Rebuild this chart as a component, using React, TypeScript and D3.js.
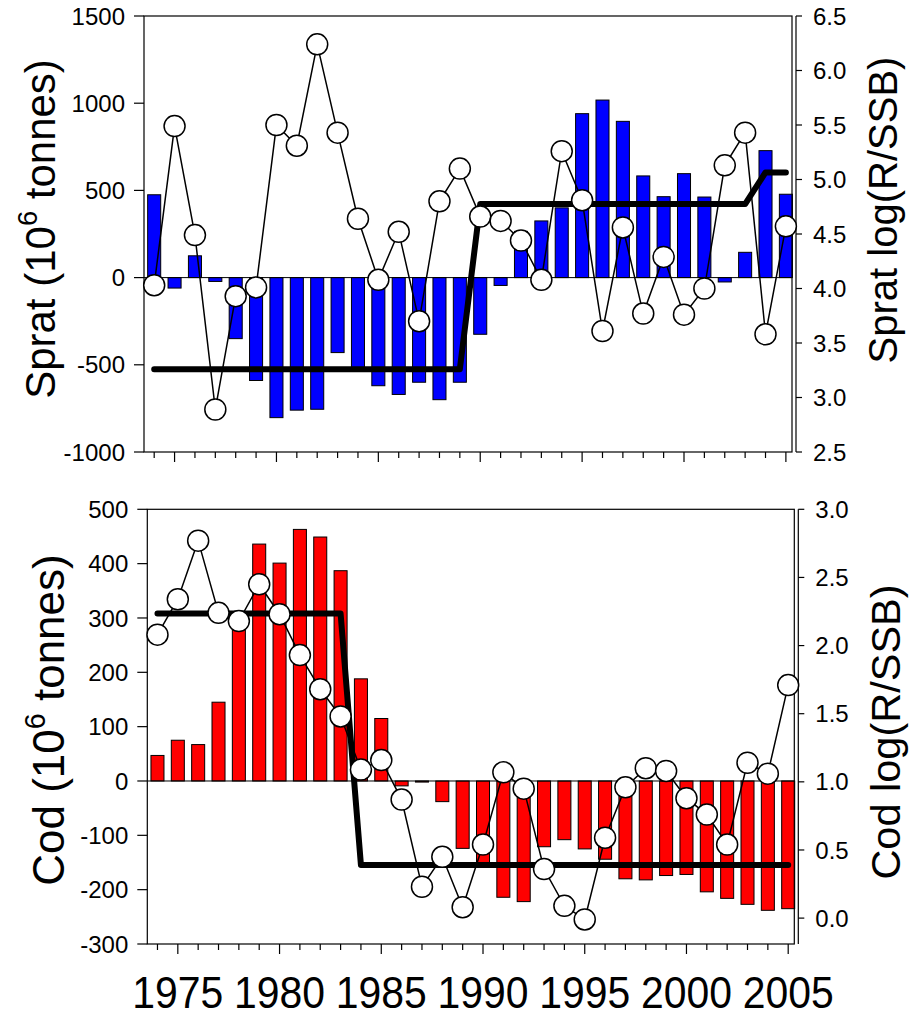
import React from "react";
import * as d3 from "d3";

const years = [1974, 1975, 1976, 1977, 1978, 1979, 1980, 1981, 1982, 1983, 1984, 1985, 1986, 1987, 1988, 1989,
  1990, 1991, 1992, 1993, 1994, 1995, 1996, 1997, 1998, 1999, 2000, 2001, 2002, 2003, 2004, 2005];
const majorYears = [1975, 1980, 1985, 1990, 1995, 2000, 2005];

const spratBars = [475, -60, 125, -22, -350, -590, -803, -760, -755, -430, -535, -620, -670, -600, -700, -600,
  -325, -45, 265, 325, 400, 940, 1018, 896, 583, 464, 596, 462, -25, 145, 728, 478];
const spratLog = [4.03, 5.49, 4.49, 2.89, 3.93, 4.01, 5.5, 5.31, 6.24, 5.43, 4.64, 4.08, 4.52, 3.7, 4.8, 5.1,
  4.66, 4.62, 4.44, 4.08, 5.26, 4.81, 3.61, 4.56, 3.77, 4.29, 3.76, 4.0, 5.13, 5.43, 3.58, 4.57];
const spratRegime = [3.26, 3.26, 3.26, 3.26, 3.26, 3.26, 3.26, 3.26, 3.26, 3.26, 3.26, 3.26, 3.26, 3.26, 3.26, 3.26,
  4.775, 4.775, 4.775, 4.775, 4.775, 4.775, 4.775, 4.775, 4.775, 4.775, 4.775, 4.775, 4.775, 4.775, 5.065, 5.065];

const codBars = [47, 75, 67, 145, 295, 436, 401, 463, 449, 387, 188, 115, -9, -2, -38, -124,
  -150, -214, -222, -121, -108, -125, -144, -180, -182, -174, -172, -204, -216, -227, -238, -235];
const codLog = [2.08, 2.34, 2.77, 2.24, 2.18, 2.45, 2.23, 1.93, 1.68, 1.48, 1.09, 1.16, 0.87, 0.23, 0.45, 0.08,
  0.54, 1.07, 0.95, 0.36, 0.09, -0.01, 0.59, 0.96, 1.1, 1.08, 0.88, 0.76, 0.54, 1.14, 1.06, 1.71];
const codRegime = [2.235, 2.235, 2.235, 2.235, 2.235, 2.235, 2.235, 2.235, 2.235, 2.235,
  0.39, 0.39, 0.39, 0.39, 0.39, 0.39, 0.39, 0.39, 0.39, 0.39, 0.39, 0.39, 0.39, 0.39, 0.39, 0.39,
  0.39, 0.39, 0.39, 0.39, 0.39, 0.39];

const spratLeftTicks = [-1000, -500, 0, 500, 1000, 1500];
const spratRightTicks = [2.5, 3.0, 3.5, 4.0, 4.5, 5.0, 5.5, 6.0, 6.5];
const codLeftTicks = [-300, -200, -100, 0, 100, 200, 300, 400, 500];
const codRightTicks = [0.0, 0.5, 1.0, 1.5, 2.0, 2.5, 3.0];

const FONT = "'Liberation Sans', Arial, Helvetica, sans-serif";

type PanelProps = {
  left: number; right: number; top: number; bottom: number;
  leftDomain: [number, number]; rightDomain: [number, number];
  leftTicks: number[]; rightTicks: number[];
  bars: number[]; logs: number[]; regime: number[];
  color: string; species: string;
  leftTitle: [number, number]; rightTitle: [number, number];
  leftFont: number; rightFont: number;
};

function Panel(p: PanelProps) {
  const x = d3.scaleLinear().domain([1973.5, 2005.3]).range([p.left, p.right]);
  const yL = d3.scaleLinear().domain(p.leftDomain).range([p.bottom, p.top]);
  const yR = d3.scaleLinear().domain(p.rightDomain).range([p.bottom, p.top]);
  const barW = x(1974.32) - x(1974);
  const thin = d3.line<number>().x((_, i) => x(years[i])).y((d) => yR(d));
  const fmt = d3.format(".1f");
  const rAx = p.right + 4;
  const sup = Math.round(p.leftFont * 0.43);
  return (
    <g>
      {p.bars.map((v, i) => (
        <rect key={"b" + i} x={x(years[i]) - barW} width={barW * 2}
          y={Math.min(yL(v), yL(0))} height={Math.abs(yL(v) - yL(0))}
          fill={p.color} stroke="#000" strokeWidth={1} />
      ))}
      <line x1={p.left} x2={p.right} y1={yL(0)} y2={yL(0)} stroke="#000" strokeWidth={1} />
      <rect x={p.left} y={p.top} width={p.right - p.left} height={p.bottom - p.top}
        fill="none" stroke="#000" strokeWidth={1.2} />
      <line x1={rAx} x2={rAx} y1={p.top} y2={p.bottom} stroke="#000" strokeWidth={1.2} />
      {years.map((yr) => (
        <line key={"t" + yr} x1={x(yr)} x2={x(yr)} y1={p.bottom}
          y2={p.bottom + (majorYears.includes(yr) ? 10 : 6)} stroke="#000" strokeWidth={1.2} />
      ))}
      {p.leftTicks.map((t) => (
        <g key={"l" + t}>
          <line x1={p.left - 10} x2={p.left} y1={yL(t)} y2={yL(t)} stroke="#000" strokeWidth={1.2} />
          <text x={p.left - 19} y={yL(t)} dy="0.36em" textAnchor="end" fontSize={24} fontFamily={FONT}>{t}</text>
        </g>
      ))}
      {p.rightTicks.map((t) => (
        <g key={"r" + t}>
          <line x1={rAx} x2={rAx + 6} y1={yR(t)} y2={yR(t)} stroke="#000" strokeWidth={1.2} />
          <text x={p.right + 21} y={yR(t)} dy="0.36em" textAnchor="start" fontSize={24} fontFamily={FONT}>{fmt(t)}</text>
        </g>
      ))}
      <path d={thin(p.regime) || ""} fill="none" stroke="#000" strokeWidth={6}
        strokeLinecap="round" strokeLinejoin="round" />
      <path d={thin(p.logs) || ""} fill="none" stroke="#000" strokeWidth={1.5} />
      {p.logs.map((v, i) => (
        <circle key={"c" + i} cx={x(years[i])} cy={yR(v)} r={10.5} fill="#fff" stroke="#000" strokeWidth={1.5} />
      ))}
      <text transform={`translate(${p.leftTitle[0]},${p.leftTitle[1]}) rotate(-90)`} textAnchor="middle"
        fontSize={p.leftFont} fontFamily={FONT}>
        {p.species + " (10"}
        <tspan fontSize={p.leftFont * 0.65} dy={-sup}>6</tspan>
        <tspan dy={sup}>{" tonnes)"}</tspan>
      </text>
      <text transform={`translate(${p.rightTitle[0]},${p.rightTitle[1]}) rotate(-90)`} textAnchor="middle"
        fontSize={p.rightFont} fontFamily={FONT}>
        {p.species + " log(R/SSB)"}
      </text>
    </g>
  );
}

export default function App() {
  const xB = d3.scaleLinear().domain([1973.5, 2005.3]).range([147.3, 794.3]);
  return (
    <svg width={923} height={1017} style={{ position: "absolute", left: 0, top: 0, background: "#fff" }}>
      <rect width={923} height={1017} fill="#fff" />
      <Panel left={144} right={792} top={16} bottom={452}
        leftDomain={[-1000, 1500]} rightDomain={[2.5, 6.5]}
        leftTicks={spratLeftTicks} rightTicks={spratRightTicks}
        bars={spratBars} logs={spratLog} regime={spratRegime} color="#0000ff" species="Sprat"
        leftTitle={[55, 229]} rightTitle={[897, 210]} leftFont={42} rightFont={40} />
      <Panel left={147.3} right={794.3} top={509.3} bottom={944}
        leftDomain={[-300, 500]} rightDomain={[-0.19, 3.0]}
        leftTicks={codLeftTicks} rightTicks={codRightTicks}
        bars={codBars} logs={codLog} regime={codRegime} color="#ff0000" species="Cod"
        leftTitle={[64, 720]} rightTitle={[900, 732]} leftFont={44} rightFont={41.5} />
      {majorYears.map((yr) => (
        <text key={"y" + yr} x={xB(yr)} y={1008} textAnchor="middle" fontSize={44} fontFamily={FONT}
          textLength={91} lengthAdjust="spacingAndGlyphs">{yr}</text>
      ))}
    </svg>
  );
}
